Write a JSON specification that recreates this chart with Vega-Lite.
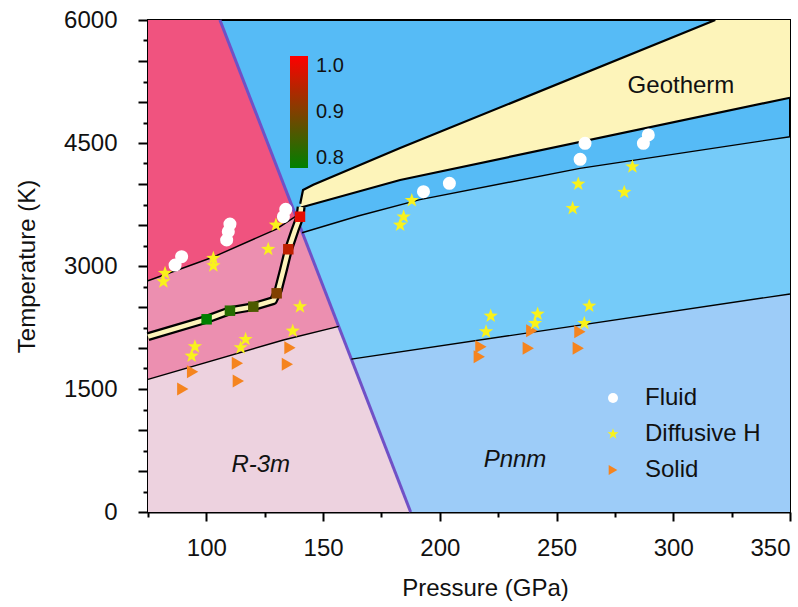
{
  "$schema": "https://vega.github.io/schema/vega-lite/v6.json",
  "width": 642,
  "height": 492,
  "autosize": {"type": "none"},
  "padding": {"left": 148, "top": 20, "right": 8, "bottom": 95},
  "background": "white",
  "config": {
    "font": "Liberation Sans",
    "view": {"fill": "#56BBF6", "stroke": "#000", "strokeWidth": 2},
    "axis": {
      "labelFont": "Liberation Sans", "titleFont": "Liberation Sans",
      "labelFontSize": 24, "titleFontSize": 24,
      "labelColor": "#111", "titleColor": "#111", "titleFontWeight": "normal",
      "domainColor": "#000", "domainWidth": 2, "tickColor": "#000", "tickWidth": 2,
      "grid": false, "zindex": 1
    }
  },
  "datasets": {
    "regions": [
      {"region": "lightblue", "P": 141, "T": 0, "T2": 3405},
      {"region": "lightblue", "P": 165, "T": 0, "T2": 3610},
      {"region": "lightblue", "P": 191.5, "T": 0, "T2": 3810},
      {"region": "lightblue", "P": 260, "T": 0, "T2": 4190},
      {"region": "lightblue", "P": 350, "T": 0, "T2": 4577},
      {"region": "lavender", "P": 160, "T": 0, "T2": 1855},
      {"region": "lavender", "P": 350, "T": 0, "T2": 2659},
      {"region": "pinkmid", "P": 75, "T": 0, "T2": 6000},
      {"region": "pinkmid", "P": 105.8, "T": 0, "T2": 6000},
      {"region": "pinkmid", "P": 187.5, "T": 0, "T2": 0},
      {"region": "pinkdeep", "P": 75, "T": 2820, "T2": 6000},
      {"region": "pinkdeep", "P": 103, "T": 3110, "T2": 6000},
      {"region": "pinkdeep", "P": 105.8, "T": 3145, "T2": 6000},
      {"region": "pinkdeep", "P": 130, "T": 3450, "T2": 4223},
      {"region": "pinkdeep", "P": 138.4, "T": 3608, "T2": 3608},
      {"region": "pinklight", "P": 75, "T": 0, "T2": 1618},
      {"region": "pinklight", "P": 133, "T": 0, "T2": 2097},
      {"region": "pinklight", "P": 156.7, "T": 0, "T2": 2264},
      {"region": "pinklight", "P": 187.5, "T": 0, "T2": 0},
      {"region": "geo", "P": 140.3, "T": 3712, "T2": 3760},
      {"region": "geo", "P": 141.4, "T": 3723, "T2": 3927},
      {"region": "geo", "P": 145.8, "T": 3758, "T2": 3990},
      {"region": "geo", "P": 183, "T": 4049, "T2": 4439},
      {"region": "geo", "P": 318, "T": 4860, "T2": 6000},
      {"region": "geo", "P": 350, "T": 5052, "T2": 6000}
    ],
    "lines": [
      {"kind": "thin", "id": "melt", "P": 75, "T": 2820},
      {"kind": "thin", "id": "melt", "P": 103, "T": 3110},
      {"kind": "thin", "id": "melt", "P": 130, "T": 3450},
      {"kind": "thin", "id": "melt", "P": 138.4, "T": 3608},
      {"kind": "thin", "id": "L4", "P": 75, "T": 1618},
      {"kind": "thin", "id": "L4", "P": 133, "T": 2097},
      {"kind": "thin", "id": "L4", "P": 156.7, "T": 2264},
      {"kind": "thin", "id": "L2", "P": 141, "T": 3405},
      {"kind": "thin", "id": "L2", "P": 165, "T": 3610},
      {"kind": "thin", "id": "L2", "P": 191.5, "T": 3810},
      {"kind": "thin", "id": "L2", "P": 260, "T": 4190},
      {"kind": "thin", "id": "L2", "P": 350, "T": 4577},
      {"kind": "thin", "id": "L3", "P": 162.1, "T": 1864},
      {"kind": "thin", "id": "L3", "P": 350, "T": 2659},
      {"kind": "geo", "id": "gu", "P": 140.2, "T": 3760},
      {"kind": "geo", "id": "gu", "P": 141.4, "T": 3927},
      {"kind": "geo", "id": "gu", "P": 145.8, "T": 3990},
      {"kind": "geo", "id": "gu", "P": 183, "T": 4439},
      {"kind": "geo", "id": "gu", "P": 318, "T": 6000},
      {"kind": "geo", "id": "gl", "P": 140.5, "T": 3714},
      {"kind": "geo", "id": "gl", "P": 183, "T": 4049},
      {"kind": "geo", "id": "gl", "P": 350, "T": 5052},
      {"kind": "purple", "id": "pb", "P": 105.8, "T": 6000},
      {"kind": "purple", "id": "pb", "P": 187.5, "T": 0},
      {"kind": "band", "id": "mb", "P": 75, "T": 2138},
      {"kind": "band", "id": "mb", "P": 100.1, "T": 2350},
      {"kind": "band", "id": "mb", "P": 110.1, "T": 2455},
      {"kind": "band", "id": "mb", "P": 120.1, "T": 2504},
      {"kind": "band", "id": "mb", "P": 128.7, "T": 2577},
      {"kind": "band", "id": "mb", "P": 130.8, "T": 2707},
      {"kind": "band", "id": "mb", "P": 133, "T": 2951},
      {"kind": "band", "id": "mb", "P": 135.1, "T": 3195},
      {"kind": "band", "id": "mb", "P": 138, "T": 3439},
      {"kind": "band", "id": "mb", "P": 140.1, "T": 3601},
      {"kind": "band", "id": "mb", "P": 140.6, "T": 3720}
    ],
    "squares": [
      {"P": 100.1, "T": 2350, "r": 0.8},
      {"P": 110.1, "T": 2455, "r": 0.83},
      {"P": 120.1, "T": 2504, "r": 0.86},
      {"P": 130.1, "T": 2667, "r": 0.9},
      {"P": 135.1, "T": 3204, "r": 0.95},
      {"P": 140.1, "T": 3601, "r": 0.98}
    ],
    "points": [
      {"type": "Solid", "P": 94.1, "T": 1711},
      {"type": "Solid", "P": 89.9, "T": 1500},
      {"type": "Solid", "P": 113.3, "T": 1813},
      {"type": "Solid", "P": 113.7, "T": 1598},
      {"type": "Solid", "P": 135.8, "T": 2004},
      {"type": "Solid", "P": 134.7, "T": 1801},
      {"type": "Solid", "P": 239.4, "T": 2211},
      {"type": "Solid", "P": 237.9, "T": 1996},
      {"type": "Solid", "P": 217.6, "T": 2016},
      {"type": "Solid", "P": 216.9, "T": 1894},
      {"type": "Solid", "P": 260, "T": 2199},
      {"type": "Solid", "P": 259.3, "T": 1996},
      {"type": "Diffusive H", "P": 81.6, "T": 2809},
      {"type": "Diffusive H", "P": 82.3, "T": 2911},
      {"type": "Diffusive H", "P": 103, "T": 3094},
      {"type": "Diffusive H", "P": 103, "T": 3004},
      {"type": "Diffusive H", "P": 126.5, "T": 3204},
      {"type": "Diffusive H", "P": 129.8, "T": 3500},
      {"type": "Diffusive H", "P": 95.1, "T": 2016},
      {"type": "Diffusive H", "P": 93.7, "T": 1902},
      {"type": "Diffusive H", "P": 116.8, "T": 2106},
      {"type": "Diffusive H", "P": 114.7, "T": 2004},
      {"type": "Diffusive H", "P": 137, "T": 2207},
      {"type": "Diffusive H", "P": 140.1, "T": 2504},
      {"type": "Diffusive H", "P": 183, "T": 3500},
      {"type": "Diffusive H", "P": 184.5, "T": 3600},
      {"type": "Diffusive H", "P": 188, "T": 3800},
      {"type": "Diffusive H", "P": 259.3, "T": 4000},
      {"type": "Diffusive H", "P": 256.9, "T": 3703},
      {"type": "Diffusive H", "P": 282.5, "T": 4211},
      {"type": "Diffusive H", "P": 279, "T": 3899},
      {"type": "Diffusive H", "P": 221.8, "T": 2390},
      {"type": "Diffusive H", "P": 219.8, "T": 2199},
      {"type": "Diffusive H", "P": 241.9, "T": 2415},
      {"type": "Diffusive H", "P": 240.8, "T": 2301},
      {"type": "Diffusive H", "P": 264, "T": 2512},
      {"type": "Diffusive H", "P": 261.9, "T": 2301},
      {"type": "Fluid", "P": 86.6, "T": 3012},
      {"type": "Fluid", "P": 89.4, "T": 3113},
      {"type": "Fluid", "P": 108.7, "T": 3317},
      {"type": "Fluid", "P": 109.4, "T": 3418},
      {"type": "Fluid", "P": 110.1, "T": 3512},
      {"type": "Fluid", "P": 133.0, "T": 3601},
      {"type": "Fluid", "P": 134.0, "T": 3691},
      {"type": "Fluid", "P": 193, "T": 3906},
      {"type": "Fluid", "P": 204.1, "T": 4008},
      {"type": "Fluid", "P": 260.1, "T": 4301},
      {"type": "Fluid", "P": 262.2, "T": 4496},
      {"type": "Fluid", "P": 287.2, "T": 4496},
      {"type": "Fluid", "P": 289.3, "T": 4598}
    ],
    "geolabel": [{"P": 303.3, "T": 5106, "label": "Geotherm"}],
    "phaselabels": [
      {"P": 123.3, "T": 491, "label": "R-3m"},
      {"P": 232.2, "T": 552, "label": "Pnnm"}
    ]
  },
  "encoding": {
    "x": {
      "field": "P", "type": "quantitative",
      "scale": {"domain": [75, 350], "nice": false, "zero": false},
      "axis": {
        "title": "Pressure (GPa)",
        "values": [75, 100, 125, 150, 175, 200, 225, 250, 275, 300, 325, 350],
        "labelExpr": "datum.value % 50 === 0 ? datum.label : ''",
        "tickSize": {"condition": {"test": "datum.value % 50 === 0", "value": 9}, "value": 5},
        "labelPadding": 15, "titlePadding": 16, "titleX": 337, "labelFlush": true
      }
    },
    "y": {
      "field": "T", "type": "quantitative",
      "scale": {"domain": [0, 6000], "nice": false},
      "axis": {
        "title": "Temperature (K)",
        "values": [0, 250, 500, 750, 1000, 1250, 1500, 1750, 2000, 2250, 2500, 2750, 3000, 3250, 3500, 3750, 4000, 4250, 4500, 4750, 5000, 5250, 5500, 5750, 6000],
        "labelExpr": "datum.value % 1500 === 0 ? datum.label : ''",
        "format": "d",
        "tickSize": {"condition": {"test": "datum.value % 500 === 0", "value": 10}, "value": 5},
        "labelPadding": 21, "titlePadding": 24, "labelFlush": false
      }
    }
  },
  "layer": [
    {"data": {"name": "regions"}, "transform": [{"filter": "datum.region === 'lightblue'"}],
     "mark": {"type": "area", "orient": "vertical", "fill": "#75CBF9", "stroke": null},
     "encoding": {"y2": {"field": "T2"}}},
    {"data": {"name": "regions"}, "transform": [{"filter": "datum.region === 'lavender'"}],
     "mark": {"type": "area", "orient": "vertical", "fill": "#9DCCF8"},
     "encoding": {"y2": {"field": "T2"}}},
    {"data": {"name": "regions"}, "transform": [{"filter": "datum.region === 'pinkmid'"}],
     "mark": {"type": "area", "orient": "vertical", "fill": "#EC8FB0"},
     "encoding": {"y2": {"field": "T2"}}},
    {"data": {"name": "regions"}, "transform": [{"filter": "datum.region === 'pinkdeep'"}],
     "mark": {"type": "area", "orient": "vertical", "fill": "#F0537F"},
     "encoding": {"y2": {"field": "T2"}}},
    {"data": {"name": "regions"}, "transform": [{"filter": "datum.region === 'pinklight'"}],
     "mark": {"type": "area", "orient": "vertical", "fill": "#EDD2DF"},
     "encoding": {"y2": {"field": "T2"}}},
    {"data": {"name": "lines"}, "transform": [{"filter": "datum.kind === 'purple'"}],
     "mark": {"type": "line", "stroke": "#7051C6", "strokeWidth": 3},
     "encoding": {"detail": {"field": "id"}}},
    {"data": {"name": "lines"}, "transform": [{"filter": "datum.kind === 'band'"}],
     "mark": {"type": "line", "stroke": "#000", "strokeWidth": 9, "strokeJoin": "round"},
     "encoding": {"detail": {"field": "id"}}},
    {"data": {"name": "regions"}, "transform": [{"filter": "datum.region === 'geo'"}],
     "mark": {"type": "area", "orient": "vertical", "fill": "#FDF4BA"},
     "encoding": {"y2": {"field": "T2"}}},
    {"data": {"name": "lines"}, "transform": [{"filter": "datum.kind === 'thin'"}],
     "mark": {"type": "line", "stroke": "#000", "strokeWidth": 1.4},
     "encoding": {"detail": {"field": "id"}}},
    {"data": {"name": "lines"}, "transform": [{"filter": "datum.kind === 'geo'"}],
     "mark": {"type": "line", "stroke": "#000", "strokeWidth": 2.2},
     "encoding": {"detail": {"field": "id"}}},
    {"data": {"name": "lines"}, "transform": [{"filter": "datum.kind === 'band'"}],
     "mark": {"type": "line", "stroke": "#FDF4BA", "strokeWidth": 4.5, "strokeJoin": "round"},
     "encoding": {"detail": {"field": "id"}}},
    {"data": {"name": "squares"},
     "mark": {"type": "square", "size": 110, "filled": true, "opacity": 1, "strokeWidth": 0},
     "encoding": {
       "color": {"field": "r", "type": "quantitative",
         "scale": {"domain": [0.8, 1.0], "range": ["#008000", "#FF0000"], "interpolate": "rgb"},
         "legend": {"orient": "none", "legendX": 142, "legendY": 36, "title": null, "direction": "vertical",
           "gradientLength": 112, "gradientThickness": 18, "gradientStrokeWidth": 0,
           "values": [0.8, 0.9, 1.0], "format": ".1f", "labelFontSize": 20, "labelFont": "Liberation Sans",
           "labelColor": "#111", "labelOffset": 8, "padding": 0}}
     }},
    {"data": {"name": "points"},
     "mark": {"type": "point", "filled": true, "size": 170, "opacity": 1, "strokeWidth": 0},
     "encoding": {
       "shape": {"field": "type", "type": "nominal",
         "scale": {"domain": ["Fluid", "Diffusive H", "Solid"],
           "range": ["circle", "M0,-1.15L0.27,-0.372L1.094,-0.355L0.437,0.142L0.676,0.93L0,0.46L-0.676,0.93L-0.437,0.142L-1.094,-0.355L-0.27,-0.372Z", "triangle-right"]},
         "legend": {"orient": "none", "legendX": 453, "legendY": 366, "title": null, "labelFontSize": 24,
           "labelFont": "Liberation Sans", "labelColor": "#111", "symbolSize": 100, "rowPadding": 12,
           "labelOffset": 20, "padding": 0, "symbolStrokeWidth": 0}},
       "fill": {"field": "type", "type": "nominal",
         "scale": {"domain": ["Fluid", "Diffusive H", "Solid"], "range": ["#FFFFFF", "#F9F21C", "#F5841F"]},
         "legend": {"orient": "none", "legendX": 453, "legendY": 366, "title": null, "labelFontSize": 24,
           "labelFont": "Liberation Sans", "labelColor": "#111", "symbolSize": 100, "rowPadding": 12,
           "labelOffset": 20, "padding": 0, "symbolStrokeWidth": 0}}
     }},
    {"data": {"name": "geolabel"},
     "mark": {"type": "text", "font": "Liberation Sans", "fontSize": 24, "align": "center", "baseline": "alphabetic", "color": "#111"},
     "encoding": {"text": {"field": "label"}}},
    {"data": {"name": "phaselabels"},
     "mark": {"type": "text", "font": "Liberation Sans", "fontSize": 24, "fontStyle": "italic", "align": "center", "baseline": "alphabetic", "color": "#111"},
     "encoding": {"text": {"field": "label"}}}
  ]
}
